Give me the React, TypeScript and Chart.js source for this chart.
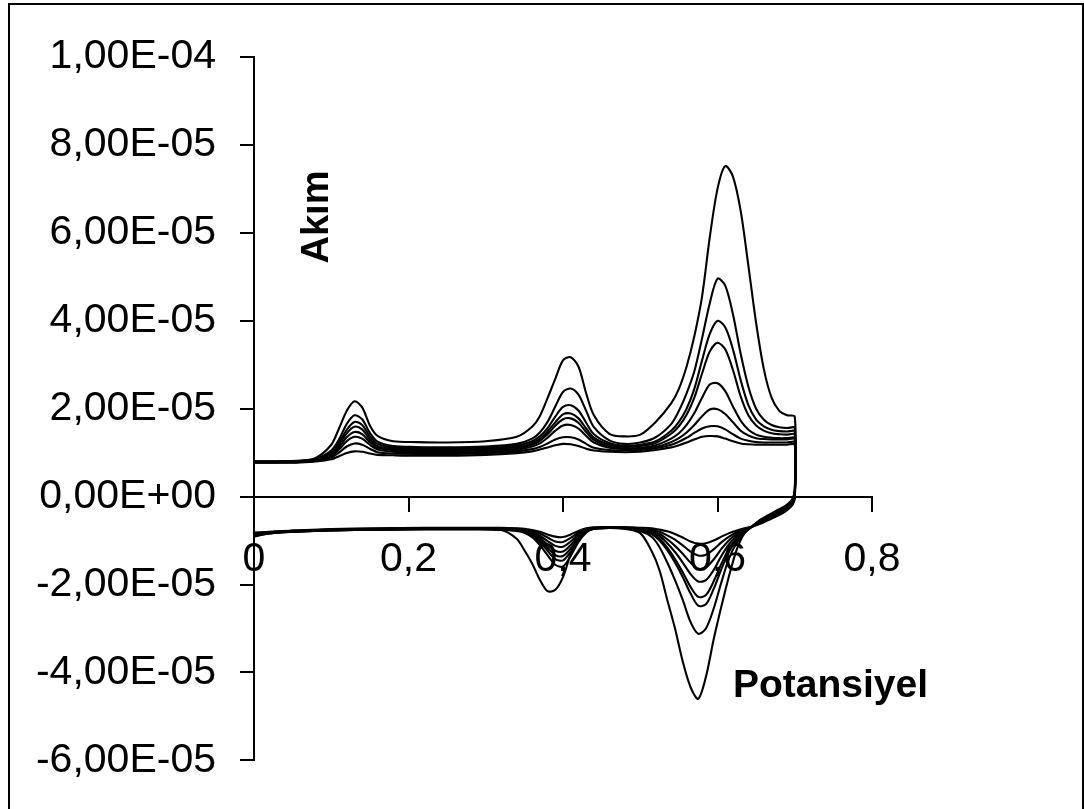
import React, { useEffect, useRef } from "react";
import { Chart, registerables } from "chart.js";

Chart.register(...registerables);

// Potential (V) sampled along the anodic (forward) sweep
const X_FWD = [0, 0.03, 0.06, 0.08, 0.10, 0.11, 0.12, 0.13, 0.14, 0.15, 0.16, 0.18, 0.21, 0.25, 0.30, 0.34, 0.36, 0.37, 0.38, 0.39, 0.40, 0.41, 0.42, 0.43, 0.44, 0.46, 0.48, 0.50, 0.52, 0.54, 0.55, 0.56, 0.57, 0.58, 0.59, 0.60, 0.61, 0.62, 0.63, 0.64, 0.65, 0.66, 0.67, 0.68, 0.69, 0.70];
// Potential (V) sampled along the cathodic (reverse) sweep
const X_REV = [0.70, 0.697, 0.692, 0.685, 0.675, 0.665, 0.655, 0.645, 0.635, 0.625, 0.615, 0.605, 0.595, 0.585, 0.575, 0.565, 0.555, 0.545, 0.535, 0.525, 0.515, 0.50, 0.48, 0.46, 0.44, 0.43, 0.42, 0.41, 0.40, 0.39, 0.38, 0.37, 0.36, 0.35, 0.34, 0.32, 0.28, 0.22, 0.16, 0.10, 0.05, 0.02, 0];

// Current in units of 1E-06 A, forward sweeps (8 cycles)
const FWD_1 = [8.0, 8.0, 8.2, 8.8, 11.8, 15.5, 19.5, 21.7, 20.3, 16.2, 13.8, 12.6, 12.4, 12.3, 12.6, 13.6, 15.9, 18.3, 22.4, 26.8, 31.0, 31.7, 29.6, 23.5, 18.5, 14.3, 13.7, 14.1, 17.0, 21.2, 24.5, 29.6, 36.5, 45.5, 59.0, 70.0, 75.2, 72.8, 65.0, 52.5, 39.5, 29.0, 22.5, 19.5, 18.5, 18.2];
const FWD_2 = [8.0, 8.0, 8.1, 8.6, 10.5, 13.0, 16.5, 18.5, 17.6, 14.5, 12.5, 11.5, 11.3, 11.2, 11.4, 12.0, 13.2, 14.6, 17.0, 20.5, 23.8, 24.6, 23.2, 19.5, 15.8, 12.8, 12.0, 12.3, 13.5, 16.5, 19.5, 23.5, 28.5, 36.0, 44.0, 49.6, 48.0, 41.5, 32.5, 25.0, 20.0, 17.5, 16.3, 15.8, 15.6, 15.6];
const FWD_3 = [8.0, 8.0, 8.1, 8.5, 10.1, 12.3, 15.2, 17.0, 16.3, 13.7, 12.0, 11.2, 11.0, 10.9, 11.1, 11.6, 12.6, 13.7, 15.6, 18.2, 20.4, 20.8, 19.6, 16.8, 14.2, 12.2, 11.6, 11.8, 12.6, 15.0, 17.0, 20.0, 24.5, 31.0, 37.0, 40.0, 38.5, 33.5, 26.5, 20.8, 17.5, 16.0, 15.2, 14.9, 14.8, 14.8];
const FWD_4 = [7.9, 7.9, 8.0, 8.4, 9.8, 11.8, 14.4, 15.9, 15.3, 13.0, 11.5, 10.9, 10.7, 10.6, 10.8, 11.3, 12.2, 13.1, 14.8, 16.9, 18.7, 18.9, 17.8, 15.5, 13.4, 11.8, 11.3, 11.5, 12.2, 14.3, 16.0, 18.6, 22.5, 28.0, 33.0, 35.0, 33.5, 28.8, 22.8, 18.5, 16.2, 15.0, 14.4, 14.2, 14.1, 14.1];
const FWD_5 = [7.9, 7.9, 8.0, 8.3, 9.5, 11.2, 13.5, 14.7, 14.2, 12.4, 11.1, 10.6, 10.4, 10.3, 10.5, 11.0, 11.8, 12.7, 14.2, 16.1, 17.6, 17.8, 16.8, 14.7, 12.9, 11.4, 11.0, 11.1, 11.7, 13.2, 14.4, 16.3, 19.0, 22.5, 25.5, 25.8, 24.0, 20.5, 17.3, 15.2, 14.1, 13.6, 13.4, 13.3, 13.3, 13.3];
const FWD_6 = [7.8, 7.8, 7.9, 8.2, 9.2, 10.7, 12.6, 13.6, 13.2, 11.8, 10.7, 10.2, 10.1, 10.0, 10.2, 10.7, 11.4, 12.1, 13.4, 15.0, 16.2, 16.3, 15.5, 13.8, 12.3, 11.1, 10.8, 10.9, 11.3, 12.4, 13.3, 14.6, 16.3, 18.3, 19.8, 19.9, 18.8, 16.9, 15.0, 13.9, 13.3, 13.1, 13.0, 13.0, 13.0, 13.0];
const FWD_7 = [7.8, 7.8, 7.9, 8.1, 8.9, 10.0, 11.4, 12.1, 11.8, 10.9, 10.1, 9.8, 9.7, 9.7, 9.9, 10.3, 10.8, 11.3, 12.1, 13.0, 13.5, 13.5, 13.0, 12.0, 11.1, 10.6, 10.5, 10.6, 11.0, 11.8, 12.5, 13.4, 14.5, 15.5, 16.0, 16.0, 15.3, 14.2, 13.2, 12.7, 12.4, 12.3, 12.3, 12.3, 12.3, 12.3];
const FWD_8 = [7.7, 7.7, 7.8, 8.0, 8.5, 9.2, 9.9, 10.3, 10.2, 9.8, 9.5, 9.4, 9.3, 9.3, 9.5, 9.9, 10.3, 10.7, 11.2, 11.7, 12.0, 11.9, 11.5, 10.9, 10.5, 10.2, 10.1, 10.2, 10.6, 11.2, 11.7, 12.3, 13.0, 13.6, 13.8, 13.7, 13.2, 12.6, 12.1, 11.9, 11.8, 11.8, 11.8, 11.8, 11.8, 11.8];

// Current in units of 1E-06 A, reverse sweeps (8 cycles)
const REV_1 = [1.5, -0.5, -1.5, -2.4, -3.3, -4.3, -5.3, -6.8, -8.3, -12.0, -18.0, -25.0, -32.5, -41.0, -46.0, -43.3, -37.5, -30.0, -23.5, -16.8, -12.5, -8.3, -7.3, -7.1, -7.3, -7.6, -9.3, -13.0, -18.3, -21.2, -21.5, -18.9, -15.2, -12.2, -9.6, -7.6, -7.4, -7.4, -7.5, -7.7, -8.0, -8.4, -9.1];
const REV_2 = [1.2, -0.7, -1.7, -2.6, -3.5, -4.5, -5.5, -6.7, -8.3, -10.5, -14.0, -19.5, -25.5, -30.0, -31.2, -28.5, -23.5, -19.0, -15.0, -11.5, -9.2, -7.8, -7.2, -7.1, -7.3, -8.2, -10.3, -13.5, -15.9, -15.5, -13.3, -11.0, -9.2, -8.2, -7.8, -7.5, -7.4, -7.4, -7.5, -7.7, -8.0, -8.4, -9.0];
const REV_3 = [0.8, -0.9, -1.9, -2.8, -3.7, -4.7, -5.7, -6.7, -8.0, -9.8, -12.5, -16.5, -21.0, -24.5, -24.8, -22.0, -18.3, -15.0, -12.2, -10.0, -8.6, -7.6, -7.2, -7.1, -7.3, -8.0, -9.8, -12.5, -14.5, -14.2, -12.3, -10.3, -8.8, -8.0, -7.7, -7.5, -7.4, -7.4, -7.5, -7.7, -8.0, -8.3, -8.9];
const REV_4 = [0.5, -1.1, -2.0, -2.9, -3.8, -4.8, -5.8, -6.8, -7.9, -9.4, -11.8, -15.3, -19.3, -22.4, -22.8, -20.5, -17.2, -14.2, -11.6, -9.6, -8.4, -7.5, -7.2, -7.1, -7.3, -7.9, -9.4, -11.8, -13.5, -13.3, -11.6, -9.9, -8.6, -7.9, -7.6, -7.4, -7.3, -7.3, -7.4, -7.6, -7.9, -8.2, -8.6];
const REV_5 = [0.2, -1.3, -2.2, -3.1, -4.0, -5.0, -5.9, -6.8, -7.7, -8.9, -10.8, -13.5, -16.7, -19.0, -19.3, -17.6, -15.0, -12.6, -10.6, -9.0, -8.1, -7.4, -7.1, -7.0, -7.2, -7.7, -9.0, -11.0, -12.5, -12.3, -10.9, -9.4, -8.3, -7.7, -7.5, -7.4, -7.3, -7.3, -7.4, -7.6, -7.9, -8.2, -8.5];
const REV_6 = [0.0, -1.5, -2.4, -3.3, -4.2, -5.1, -6.0, -6.8, -7.6, -8.5, -9.9, -11.9, -14.3, -16.1, -16.4, -15.0, -13.0, -11.2, -9.7, -8.5, -7.8, -7.3, -7.1, -7.0, -7.2, -7.6, -8.6, -10.2, -11.4, -11.2, -10.1, -8.9, -8.0, -7.6, -7.4, -7.3, -7.2, -7.2, -7.3, -7.5, -7.8, -8.1, -8.4];
const REV_7 = [-0.2, -1.7, -2.6, -3.5, -4.4, -5.2, -6.1, -6.8, -7.4, -8.1, -9.1, -10.4, -12.0, -13.2, -13.4, -12.5, -11.1, -9.8, -8.8, -8.0, -7.5, -7.2, -7.0, -7.0, -7.1, -7.4, -8.2, -9.4, -10.3, -10.2, -9.3, -8.4, -7.8, -7.5, -7.3, -7.2, -7.2, -7.2, -7.3, -7.5, -7.8, -8.1, -8.3];
const REV_8 = [-0.4, -1.9, -2.8, -3.7, -4.6, -5.4, -6.2, -6.8, -7.2, -7.7, -8.3, -9.1, -10.0, -10.6, -10.7, -10.2, -9.3, -8.5, -7.9, -7.5, -7.2, -7.1, -7.0, -6.9, -7.0, -7.2, -7.8, -8.6, -9.2, -9.1, -8.6, -8.0, -7.6, -7.3, -7.2, -7.1, -7.1, -7.1, -7.2, -7.4, -7.7, -8.0, -8.2];

const FORWARD = [FWD_1, FWD_2, FWD_3, FWD_4, FWD_5, FWD_6, FWD_7, FWD_8];
const REVERSE = [REV_1, REV_2, REV_3, REV_4, REV_5, REV_6, REV_7, REV_8];

const Y_MIN = -60;
const Y_MAX = 100;
const Y_STEP = 20;
const X_MIN = 0;
const X_MAX = 0.8;
const X_STEP = 0.2;

const X_TITLE = "Potansiyel";
const Y_TITLE = "Akım";

const FONT = "'Liberation Sans', Arial, Helvetica, sans-serif";

function fmtY(v: number): string {
  if (Math.abs(v) < 1e-9) return "0,00E+00";
  const s = (v * 1e-6).toExponential(2);
  const [m, e] = s.split("e");
  const exp = parseInt(e, 10);
  const sign = exp < 0 ? "-" : "+";
  return m.replace(".", ",") + "E" + sign + String(Math.abs(exp)).padStart(2, "0");
}

function fmtX(v: number): string {
  return String(Math.round(v * 10) / 10).replace(".", ",");
}

const titlesPlugin = {
  id: "axisTitles",
  afterDraw(chart: any) {
    const ctx = chart.ctx;
    ctx.save();
    ctx.fillStyle = "#000";
    ctx.font = `bold 39px ${FONT}`;
    ctx.textAlign = "left";
    ctx.textBaseline = "alphabetic";
    ctx.fillText(X_TITLE, 733, 697);
    ctx.translate(318, 217);
    ctx.rotate(-Math.PI / 2);
    ctx.textAlign = "center";
    ctx.textBaseline = "middle";
    ctx.font = `bold 38px ${FONT}`;
    ctx.fillText(Y_TITLE, 0, 0);
    ctx.restore();
  },
};

export default function App() {
  const canvasRef = useRef<HTMLCanvasElement | null>(null);

  useEffect(() => {
    if (!canvasRef.current) return;
    Chart.defaults.font.family = FONT;
    const datasets = FORWARD.map((fwd, k) => ({
      data: [
        ...X_FWD.map((x, i) => ({ x, y: fwd[i] })),
        ...X_REV.map((x, i) => ({ x, y: REVERSE[k][i] })),
      ],
      borderColor: "#000",
      borderWidth: 2.1,
      pointRadius: 0,
      pointHoverRadius: 0,
      tension: 0.3,
      fill: false,
    }));

    const chart = new Chart(canvasRef.current, {
      type: "line",
      data: { datasets },
      plugins: [titlesPlugin],
      options: {
        animation: false,
        responsive: false,
        devicePixelRatio: 1,
        layout: { padding: { left: 0, top: 57, right: 212, bottom: 48 } },
        plugins: { legend: { display: false }, tooltip: { enabled: false }, title: { display: false } },
        scales: {
          x: {
            type: "linear",
            position: { y: 0 } as any,
            min: X_MIN,
            max: X_MAX,
            ticks: {
              stepSize: X_STEP,
              color: "#000",
              font: { size: 41, family: FONT },
              padding: 24,
              maxRotation: 0,
              autoSkip: false,
              callback: (v: any) => fmtX(Number(v)),
            },
            grid: { drawOnChartArea: false, drawTicks: true, tickLength: 14, color: "#000", lineWidth: 2 },
            border: { display: true, color: "#000", width: 2 },
          },
          y: {
            type: "linear",
            position: "left",
            min: Y_MIN,
            max: Y_MAX,
            ticks: {
              stepSize: Y_STEP,
              color: "#000",
              font: { size: 41, family: FONT },
              padding: 24,
              autoSkip: false,
              callback: (v: any) => fmtY(Number(v)),
            },
            grid: { drawOnChartArea: false, drawTicks: true, tickLength: 14, color: "#000", lineWidth: 2 },
            border: { display: true, color: "#000", width: 2 },
            afterFit: (s: any) => {
              s.width = 254;
            },
          },
        },
      } as any,
    });
    return () => chart.destroy();
  }, []);

  return (
    <div style={{ position: "fixed", left: 0, top: 0, width: 1084, height: 809, overflow: "hidden", background: "#fff" }}>
      <div
        style={{
          position: "absolute",
          left: 8,
          top: 3,
          width: 1076,
          height: 830,
          boxSizing: "border-box",
          border: "2px solid #000",
        }}
      />
      <canvas ref={canvasRef} width={1084} height={809} style={{ position: "absolute", left: 0, top: 0 }} />
    </div>
  );
}
